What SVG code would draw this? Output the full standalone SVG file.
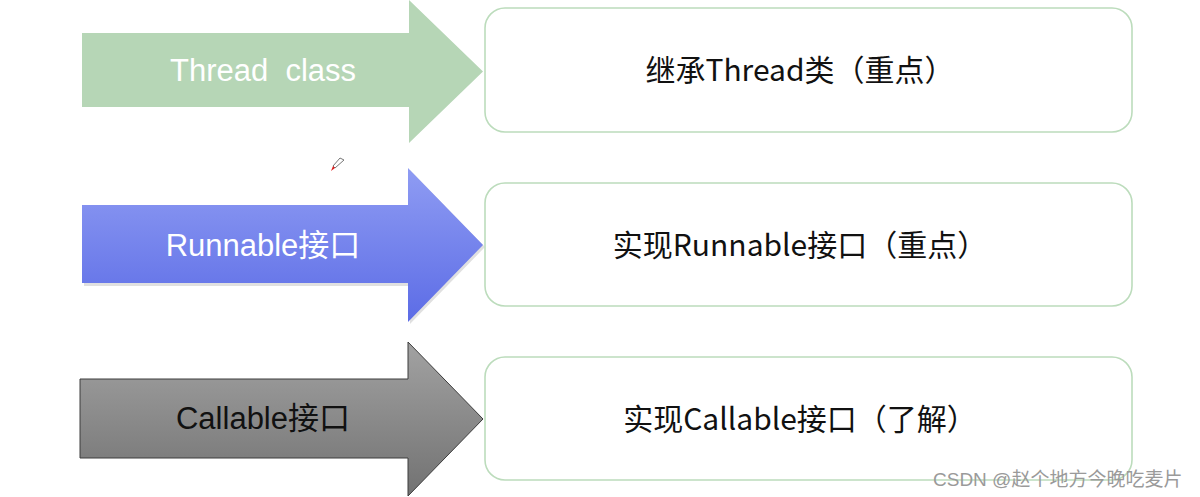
<svg xmlns="http://www.w3.org/2000/svg" width="1200" height="497" viewBox="0 0 1200 497">
<defs>
<linearGradient id="gBlue" x1="0" y1="0" x2="0" y2="1">
<stop offset="0" stop-color="#8f9cf3"/>
<stop offset="1" stop-color="#5c6ce6"/>
</linearGradient>
<linearGradient id="gGray" x1="0" y1="0" x2="0" y2="1">
<stop offset="0" stop-color="#a2a2a2"/>
<stop offset="1" stop-color="#727272"/>
</linearGradient>
<style>
.box{fill:#ffffff;stroke:#bcdcbc;stroke-width:1.6}
.lbl{font-family:"Liberation Sans",Arial,"Noto Sans CJK SC",sans-serif;font-size:31px;text-anchor:middle;white-space:pre}
.btxt{font-family:"Noto Sans CJK SC",sans-serif;font-size:30px;fill:#111111;text-anchor:middle}
.wm{font-family:"Liberation Sans","Noto Sans CJK SC",sans-serif;font-size:19px;fill:#9a9a9a}
</style>
</defs>
<rect width="1200" height="497" fill="#ffffff"/>

<g id="arrow-thread">
<polygon points="82,33 409,33 409,0 483,71.5 409,143 409,107 82,107" fill="#b6d6b6"/>
<text class="lbl" x="263" y="81" fill="#ffffff" xml:space="preserve">Thread  class</text>
</g>
<g id="arrow-runnable">
<polygon points="84,207 410,207 410,170 485,247 410,324 410,286 84,286" fill="#000" opacity="0.12"/>
<polygon points="82,205 408,205 408,168 483,245 408,322 408,283 82,283" fill="url(#gBlue)"/>
<text class="lbl" x="263" y="256" fill="#ffffff">Runnable接口</text>
</g>
<g id="arrow-callable">
<polygon points="80,379 408,379 408,342 483,419 408,496 408,458 80,458" fill="url(#gGray)" stroke="#3c3c3c" stroke-width="1"/>
<text class="lbl" x="263" y="429" fill="#111111">Callable接口</text>
</g>

<g id="box-thread">
<rect class="box" x="485" y="8" width="647" height="124" rx="20"/>
<text class="btxt" x="800" y="81">继承Thread类（重点）</text>
</g>
<g id="box-runnable">
<rect class="box" x="485" y="183" width="647" height="123" rx="20"/>
<text class="btxt" x="800" y="256">实现Runnable接口（重点）</text>
</g>
<g id="box-callable">
<rect class="box" x="485" y="357" width="647" height="123" rx="20"/>
<text class="btxt" x="800" y="430">实现Callable接口（了解）</text>
</g>

<g id="connectors"></g>

<g id="pen">
<polygon points="340,158 344,160 335,168 333,166" fill="#ffffff" stroke="#777777" stroke-width="1"/>
<polygon points="333,166 335,168 331,171" fill="#e02020"/>
</g>

<text class="wm" x="933" y="486">CSDN @赵个地方今晚吃麦片</text>
</svg>
